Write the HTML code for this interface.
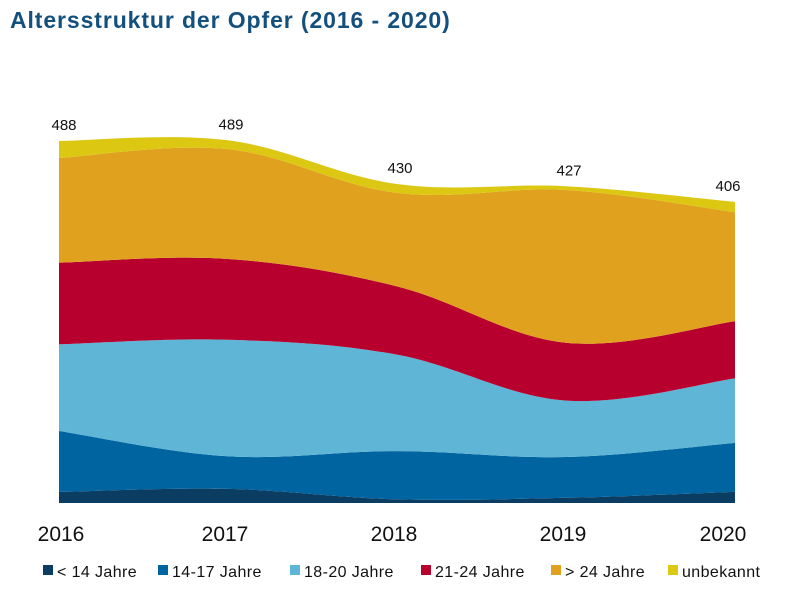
<!DOCTYPE html>
<html><head><meta charset="utf-8"><style>
body{margin:0;background:#fff;}
svg{display:block;font-family:"Liberation Sans",sans-serif;}
</style></head><body>
<svg id="chart" width="794" height="602">
<text x="10" y="28" font-size="23" font-weight="bold" fill="#14507e" letter-spacing="0.9">Altersstruktur der Opfer (2016 - 2020)</text>
<g id="areas"></g><g id="labels"></g><g id="xaxis"></g><g id="legend"></g>
</svg>
<script>
const years = ["2016","2017","2018","2019","2020"];
const totals = [488,489,430,427,406];
const seriesNames = ["< 14 Jahre","14-17 Jahre","18-20 Jahre","21-24 Jahre","> 24 Jahre","unbekannt"];
const under14 = [15,19,5,7,15];
const age14to17 = [82,44,65,55,66];
const age18to20 = [117,157,130,76,87];
const age21to24 = [110,109,92,78,77];
const over24 = [141,148,126,206,147];
const unknown = [23,12,12,5,14];
const series = [under14,age14to17,age18to20,age21to24,over24,unknown];
const colors = ["#0b3d63","#0064a0","#5eb5d5","#b8002f","#e0a21e","#dcc813"];
const NS="http://www.w3.org/2000/svg";
const x0=59,x1=735,base=503,scale=362/488;
const xs=i=>x0+i*(x1-x0)/(years.length-1);
const ys=v=>base-v*scale;
function mk(t,a,p){const e=document.createElementNS(NS,t);for(const k in a)e.setAttribute(k,a[k]);p.appendChild(e);return e;}
function curve(pts,start){
  let d=(start||"M")+pts[0][0]+","+pts[0][1];
  const n=pts.length,t=0.35;
  for(let i=1;i<n;i++){
    const p0=pts[Math.max(i-2,0)],p1=pts[i-1],p2=pts[i],p3=pts[Math.min(i+1,n-1)];
    const c1=[p1[0]+(p2[0]-p0[0])*t/2,p1[1]+(p2[1]-p0[1])*t/2];
    const c2=[p2[0]-(p3[0]-p1[0])*t/2,p2[1]-(p3[1]-p1[1])*t/2];
    d+=" C"+c1[0]+","+c1[1]+" "+c2[0]+","+c2[1]+" "+p2[0]+","+p2[1];
  }
  return d;
}
const cum=years.map(()=>0);
const areas=document.getElementById("areas");
series.forEach((s,k)=>{
  const lower=cum.slice();
  s.forEach((v,i)=>cum[i]+=v);
  const up=years.map((_,i)=>[xs(i),ys(cum[i])]);
  const lo=years.map((_,i)=>[xs(i),ys(lower[i])]).reverse();
  const d=curve(up)+" "+curve(lo,"L")+" Z";
  const p=mk("path",{d:d,fill:colors[k]},areas);
  
  
});
const labels=document.getElementById("labels");
totals.forEach((t,i)=>{
  const tx=mk("text",{x:xs(i)+(i===0?5:i===4?-7:3),y:ys(cum[i])-11,"font-size":15,"text-anchor":"middle",fill:"#111"},labels);
  tx.textContent=t;
  
  
});
const xa=document.getElementById("xaxis");
years.forEach((y,i)=>{
  const tx=mk("text",{x:xs(i)-(i===0?-2:i===4?12:3),y:541,"font-size":21,"text-anchor":"middle",fill:"#111"},xa);
  tx.textContent=y;
  
  
});
const lg=document.getElementById("legend");
const lx=[43,158,290,421,551,668];
seriesNames.forEach((n,k)=>{
  const g=mk("g",{},lg);
  
  
  mk("rect",{x:lx[k],y:565,width:10,height:10,fill:colors[k]},g);
  const t=mk("text",{x:lx[k]+14,y:577,"font-size":16,fill:"#111","letter-spacing":"0.4"},g);
  t.textContent=n;
});
</script>
</body></html>
